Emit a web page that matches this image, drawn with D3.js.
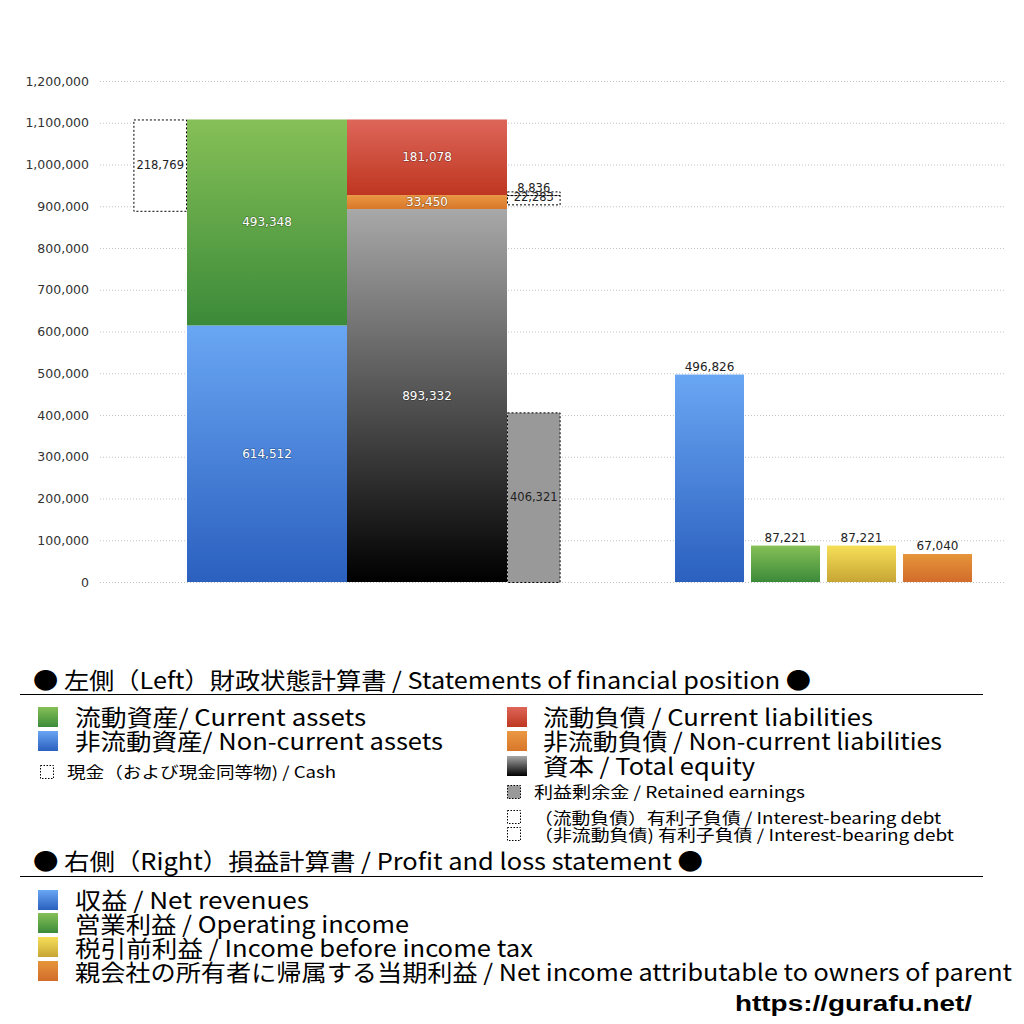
<!DOCTYPE html>
<html>
<head>
<meta charset="utf-8">
<script src="https://cdn.jsdelivr.net/npm/d3@7"></script>
<style>
  html, body { margin: 0; padding: 0; background: #fff; }
  svg { display: block; }
</style>
</head>
<body>
<svg id="chart" width="1024" height="1024"></svg>
<script>
// 左側: 財政状態計算書
const assetLabels = ["非流動資産", "流動資産"];
const assetValues = [614512, 493348];
const liabLabels = ["資本", "非流動負債", "流動負債"];
const liabValues = [893332, 33450, 181078];
const cashValue = 218769;
const retainedValue = 406321;
const debtCurrent = 8836;
const debtNonCurrent = 22283;

// 右側: 損益計算書
const plLabels = ["収益", "営業利益", "税引前利益", "当期利益"];
const plValues = [496826, 87221, 87221, 67040];

const yTicks = d3.range(0, 1200001, 100000);

const svg = d3.select("#chart");
const numFont = "'DejaVu Sans', sans-serif";
const jpFont = "'Noto Sans CJK JP', 'Noto Sans', sans-serif";
const fmt = d3.format(",");

const y = d3.scaleLinear().domain([0, 1200000]).range([582, 81]);

// グラデーション
const defs = svg.append("defs");
function addGradient(id, top, bottom) {
    const g = defs.append("linearGradient")
        .attr("id", id)
        .attr("x1", 0).attr("y1", 0)
        .attr("x2", 0).attr("y2", 1);
    g.append("stop").attr("offset", "0%").attr("stop-color", top);
    g.append("stop").attr("offset", "100%").attr("stop-color", bottom);
    return `url(#${id})`;
}
const fills = {
    blue: addGradient("gBlue", "#69a6f3", "#2b60bf"),
    green: addGradient("gGreen", "#86c057", "#3b8a39"),
    red: addGradient("gRed", "#dd665a", "#bf3620"),
    orange: addGradient("gOrange", "#ea9843", "#d8772a"),
    equity: addGradient("gEquity", "#a8a8a8", "#000000"),
    yellow: addGradient("gYellow", "#f6df58", "#c7a534"),
    orange2: addGradient("gOrange2", "#e6953a", "#d26c2b")
};

// グリッド線と軸
svg.append("g")
    .selectAll("line")
    .data(yTicks)
    .join("line")
    .attr("x1", 100)
    .attr("x2", 1005)
    .attr("y1", d => y(d) + 0.5)
    .attr("y2", d => y(d) + 0.5)
    .attr("stroke", "#c4c4c4")
    .attr("stroke-dasharray", "1,2");

const yAxis = svg.append("g")
    .attr("transform", "translate(92,0)")
    .call(d3.axisLeft(y).tickValues(yTicks).tickFormat(fmt).tickSize(0).tickPadding(3));
yAxis.select(".domain").remove();
yAxis.selectAll("text")
    .attr("font-family", numFont)
    .attr("font-size", "12.5px")
    .attr("fill", "#333");

// 左側の棒
const xLeft = d3.scaleBand().domain(["assets", "liab"]).range([187, 507]).padding(0);
const sideW = xLeft.bandwidth() * 0.335;

function stackSegments(values) {
    const tops = d3.cumsum(values);
    return values.map((v, i) => ({ value: v, y0: tops[i] - v, y1: tops[i] }));
}
const assetSegs = stackSegments(assetValues);
const liabSegs = stackSegments(liabValues);
const total = d3.sum(assetValues);

const assetFills = [fills.blue, fills.green];
const liabFills = [fills.equity, fills.orange, fills.red];

function drawStack(segs, key, segFills) {
    const g = svg.append("g");
    g.selectAll("rect")
        .data(segs)
        .join("rect")
        .attr("x", xLeft(key))
        .attr("width", xLeft.bandwidth())
        .attr("y", d => y(d.y1))
        .attr("height", d => y(d.y0) - y(d.y1))
        .attr("fill", (d, i) => segFills[i]);
    g.selectAll("text")
        .data(segs)
        .join("text")
        .attr("x", xLeft(key) + xLeft.bandwidth() / 2)
        .attr("y", d => (y(d.y0) + y(d.y1)) / 2 + 4)
        .attr("text-anchor", "middle")
        .attr("font-family", numFont)
        .attr("font-size", "12px")
        .attr("fill", "#fff")
        .style("paint-order", "stroke")
        .attr("stroke", "rgba(0,0,0,0.25)")
        .attr("stroke-width", 1.5)
        .text(d => fmt(d.value));
}
drawStack(assetSegs, "assets", assetFills);
drawStack(liabSegs, "liab", liabFills);

// 破線ボックス (現金, 利益剰余金, 有利子負債)
const ncTop = liabSegs[1].y1;
const dashedBoxes = [
    { value: cashValue, x: xLeft("assets") - sideW, y0: total - cashValue, y1: total, fill: "#fff", dy: 4 },
    { value: retainedValue, x: xLeft("liab") + xLeft.bandwidth(), y0: 0, y1: retainedValue, fill: "#999", dy: 4 },
    { value: debtNonCurrent, x: xLeft("liab") + xLeft.bandwidth(), y0: ncTop - debtNonCurrent, y1: ncTop, fill: "none", dy: 1 },
    { value: debtCurrent, x: xLeft("liab") + xLeft.bandwidth(), y0: ncTop, y1: ncTop + debtCurrent, fill: "none", dy: -1 }
];
svg.append("g")
    .selectAll("rect")
    .data(dashedBoxes)
    .join("rect")
    .attr("x", d => d.x + 0.5)
    .attr("width", sideW - 1)
    .attr("y", d => y(d.y1) + 0.5)
    .attr("height", d => y(d.y0) - y(d.y1))
    .attr("fill", d => d.fill)
    .attr("stroke", "#000")
    .attr("stroke-width", 1)
    .attr("stroke-dasharray", "2,2");
svg.append("g")
    .selectAll("text")
    .data(dashedBoxes)
    .join("text")
    .attr("x", d => d.x + sideW / 2)
    .attr("y", d => (y(d.y0) + y(d.y1)) / 2 + d.dy)
    .attr("text-anchor", "middle")
    .attr("font-family", numFont)
    .attr("font-size", "11.5px")
    .attr("fill", "#222")
    .text(d => fmt(d.value));

// 右側の棒
const xRight = d3.scaleBand()
    .domain(plLabels)
    .range([671.5, 975.5])
    .paddingInner(0.092)
    .paddingOuter(0.046);
const plFills = [fills.blue, fills.green, fills.yellow, fills.orange2];

svg.append("g")
    .selectAll("rect")
    .data(plValues)
    .join("rect")
    .attr("x", (d, i) => xRight(plLabels[i]))
    .attr("width", xRight.bandwidth())
    .attr("y", d => y(d))
    .attr("height", d => y(0) - y(d))
    .attr("fill", (d, i) => plFills[i]);
svg.append("g")
    .selectAll("text")
    .data(plValues)
    .join("text")
    .attr("x", (d, i) => xRight(plLabels[i]) + xRight.bandwidth() / 2)
    .attr("y", d => y(d) - 4)
    .attr("text-anchor", "middle")
    .attr("font-family", numFont)
    .attr("font-size", "12px")
    .attr("fill", "#222")
    .text(d => fmt(d));

// 凡例
const headers = [
    { text: "● 左側（Left）財政状態計算書 / Statements of financial position ●", x: 33, y: 689, w: 778, line: 694 },
    { text: "● 右側（Right）損益計算書 / Profit and loss statement ●", x: 33, y: 870, w: 670, line: 876 }
];
headers.forEach(h => {
    svg.append("text")
        .attr("x", h.x)
        .attr("y", h.y)
        .attr("font-family", jpFont)
        .attr("font-size", "23px")
        .attr("fill", "#000")
        .attr("textLength", h.w)
        .attr("lengthAdjust", "spacingAndGlyphs")
        .text(h.text);
    svg.append("line")
        .attr("x1", 20).attr("x2", 983)
        .attr("y1", h.line + 0.5).attr("y2", h.line + 0.5)
        .attr("stroke", "#000")
        .attr("stroke-width", 1);
});

const legendItems = [
    { text: "流動資産/ Current assets", fill: fills.green, sx: 38, sy: 707, s: 20, tx: 75, ty: 726, size: 23, w: 291 },
    { text: "非流動資産/ Non-current assets", fill: fills.blue, sx: 38, sy: 731, s: 20, tx: 75, ty: 750, size: 23, w: 368 },
    { text: "現金（および現金同等物) / Cash", fill: "none", dash: true, sx: 40, sy: 765, s: 13, tx: 67, ty: 778, size: 16, w: 269 },
    { text: "流動負債 /  Current liabilities", fill: fills.red, sx: 507, sy: 707, s: 20, tx: 543, ty: 726, size: 23, w: 330 },
    { text: "非流動負債 / Non-current liabilities", fill: fills.orange, sx: 507, sy: 731, s: 20, tx: 543, ty: 750, size: 23, w: 399 },
    { text: "資本 / Total equity", fill: fills.equity, sx: 507, sy: 756, s: 20, tx: 543, ty: 775, size: 23, w: 212 },
    { text: "利益剰余金 / Retained earnings", fill: "#999", dash: true, sx: 507, sy: 785, s: 13, tx: 534, ty: 798, size: 16, w: 271 },
    { text: "（流動負債）有利子負債 / Interest-bearing debt", fill: "none", dash: true, sx: 507, sy: 810, s: 13, tx: 534, ty: 824, size: 16, w: 407 },
    { text: "（非流動負債) 有利子負債 / Interest-bearing debt", fill: "none", dash: true, sx: 507, sy: 827, s: 13, tx: 534, ty: 841, size: 16, w: 420 },
    { text: "収益 / Net revenues", fill: fills.blue, sx: 38, sy: 890, s: 20, tx: 75, ty: 909, size: 23, w: 234 },
    { text: "営業利益 / Operating income", fill: fills.green, sx: 38, sy: 913, s: 20, tx: 75, ty: 933, size: 23, w: 334 },
    { text: "税引前利益 / Income before income tax", fill: fills.yellow, sx: 38, sy: 937, s: 20, tx: 75, ty: 957, size: 23, w: 458 },
    { text: "親会社の所有者に帰属する当期利益 / Net income attributable to owners of parent", fill: fills.orange2, sx: 38, sy: 961, s: 20, tx: 75, ty: 981, size: 23, w: 937 }
];
const legend = svg.append("g");
legend.selectAll("rect")
    .data(legendItems)
    .join("rect")
    .attr("x", d => d.sx + (d.dash ? 0.5 : 0))
    .attr("y", d => d.sy + (d.dash ? 0.5 : 0))
    .attr("width", d => d.s)
    .attr("height", d => d.s)
    .attr("fill", d => d.fill)
    .attr("stroke", d => d.dash ? "#000" : "none")
    .attr("stroke-dasharray", d => d.dash ? "1.5,1.5" : null);
legend.selectAll("text")
    .data(legendItems)
    .join("text")
    .attr("x", d => d.tx)
    .attr("y", d => d.ty)
    .attr("font-family", jpFont)
    .attr("font-size", d => d.size + "px")
    .attr("fill", "#000")
    .attr("textLength", d => d.w)
    .attr("lengthAdjust", "spacingAndGlyphs")
    .text(d => d.text);

svg.append("text")
    .attr("x", 735)
    .attr("y", 1011)
    .attr("font-family", "'Liberation Sans', Arial, sans-serif")
    .attr("font-weight", "bold")
    .attr("font-size", "22px")
    .attr("fill", "#000")
    .attr("textLength", 237)
    .attr("lengthAdjust", "spacingAndGlyphs")
    .text("https://gurafu.net/");
</script>
</body>
</html>
